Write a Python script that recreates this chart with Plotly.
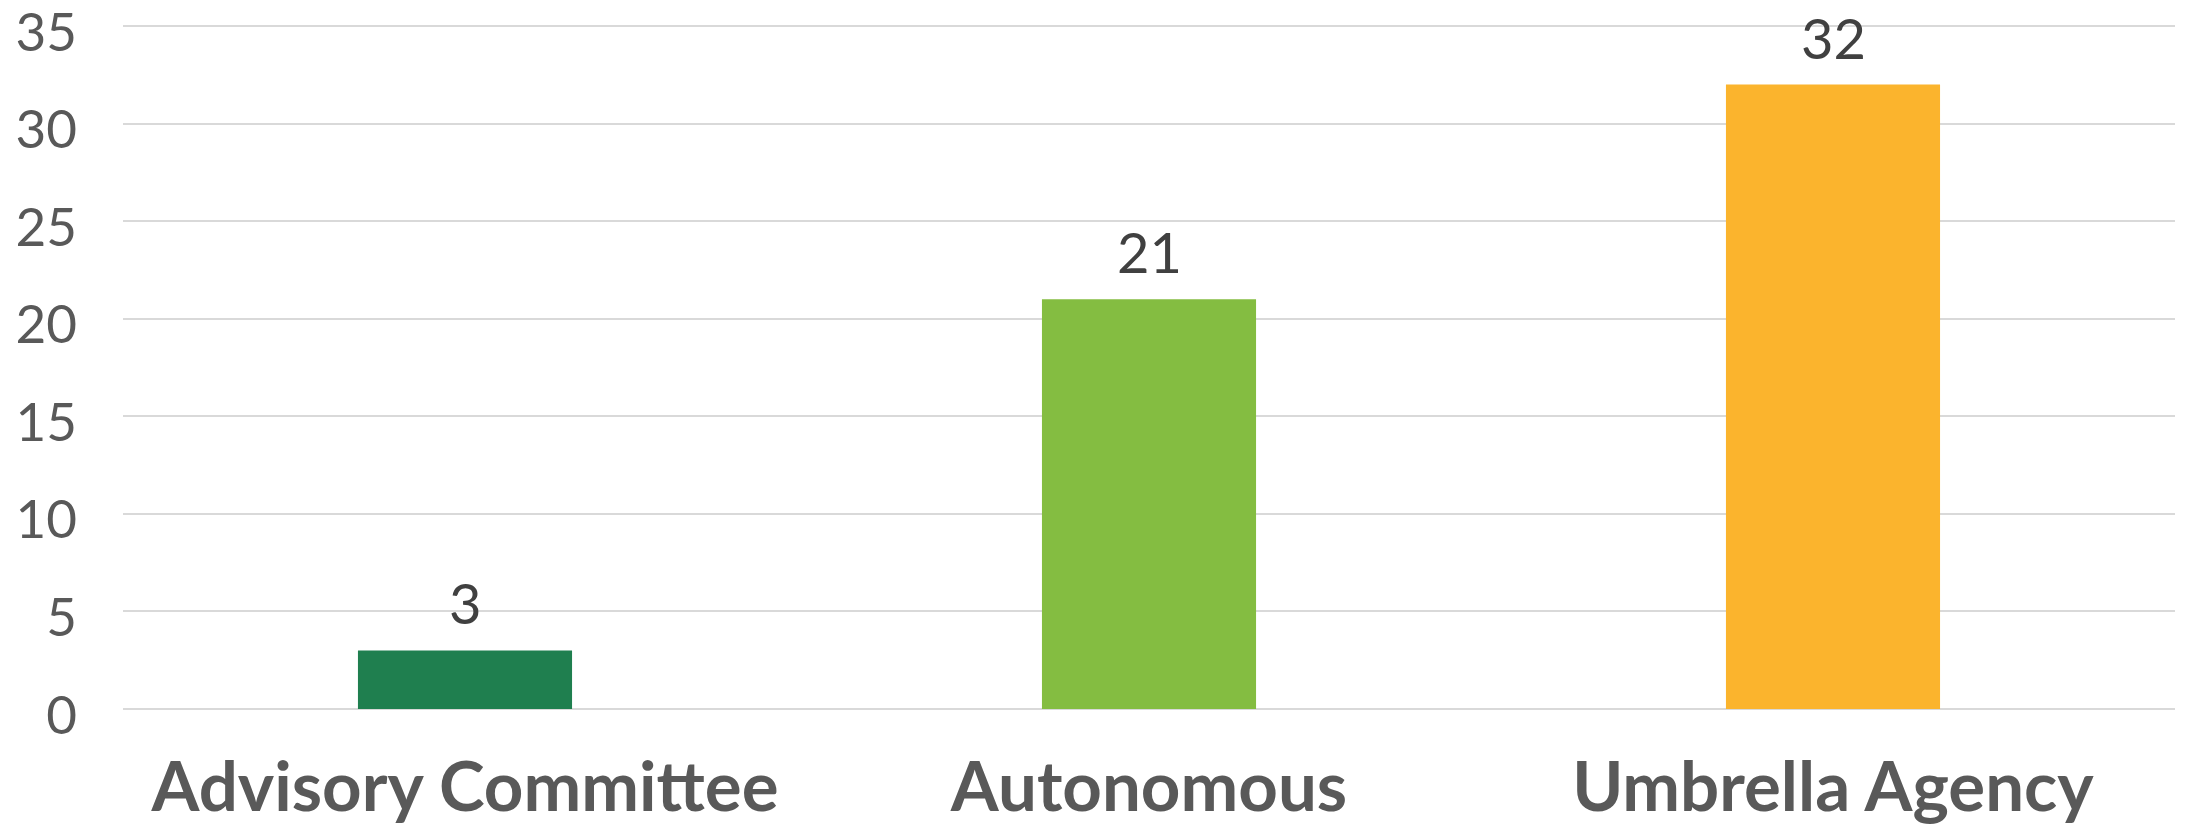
import plotly.graph_objects as go

categories = ["Advisory Committee", "Autonomous", "Umbrella Agency"]
values = [3, 21, 32]
colors = ["#1F7F4F", "#84BD41", "#FBB42D"]
y_ticks = [0, 5, 10, 15, 20, 25, 30, 35]

fig = go.Figure(
    go.Bar(
        x=categories,
        y=values,
        marker=dict(color=colors, line=dict(width=0)),
        width=0.313,
        hoverinfo="x+y",
    )
)

for cat, val in zip(categories, values):
    fig.add_annotation(
        x=cat,
        y=val,
        text=str(val),
        showarrow=False,
        xanchor="center",
        yanchor="bottom",
        yshift=12,
        font=dict(family="Lato", size=56, color="#404040"),
    )

fig.update_layout(
    width=2186,
    height=825,
    margin=dict(l=123, r=11, t=24, b=116, autoexpand=False),
    paper_bgcolor="white",
    plot_bgcolor="white",
    showlegend=False,
    font=dict(family="Lato", color="#595959"),
)

fig.update_xaxes(
    tickfont=dict(family="Lato", size=69, color="#595959", weight="bold"),
    showgrid=False,
    showline=False,
    ticks="",
    ticklabelstandoff=32,
    automargin=False,
)

fig.update_yaxes(
    range=[0, 35.1],
    tickvals=y_ticks,
    ticktext=[str(t) for t in y_ticks],
    tickfont=dict(family="Lato", size=53, color="#595959"),
    ticklabeloverflow="allow",
    ticklabelshift=6,
    showgrid=True,
    gridcolor="#D9D9D9",
    gridwidth=2,
    zeroline=True,
    zerolinecolor="#D9D9D9",
    zerolinewidth=2,
    showline=False,
    ticks="",
    ticklabelstandoff=45,
    automargin=False,
)

fig.write_html(
    "out.html",
    config={"displayModeBar": False},
    post_script="document.body.style.margin='0px';document.body.style.overflow='hidden';",
)
